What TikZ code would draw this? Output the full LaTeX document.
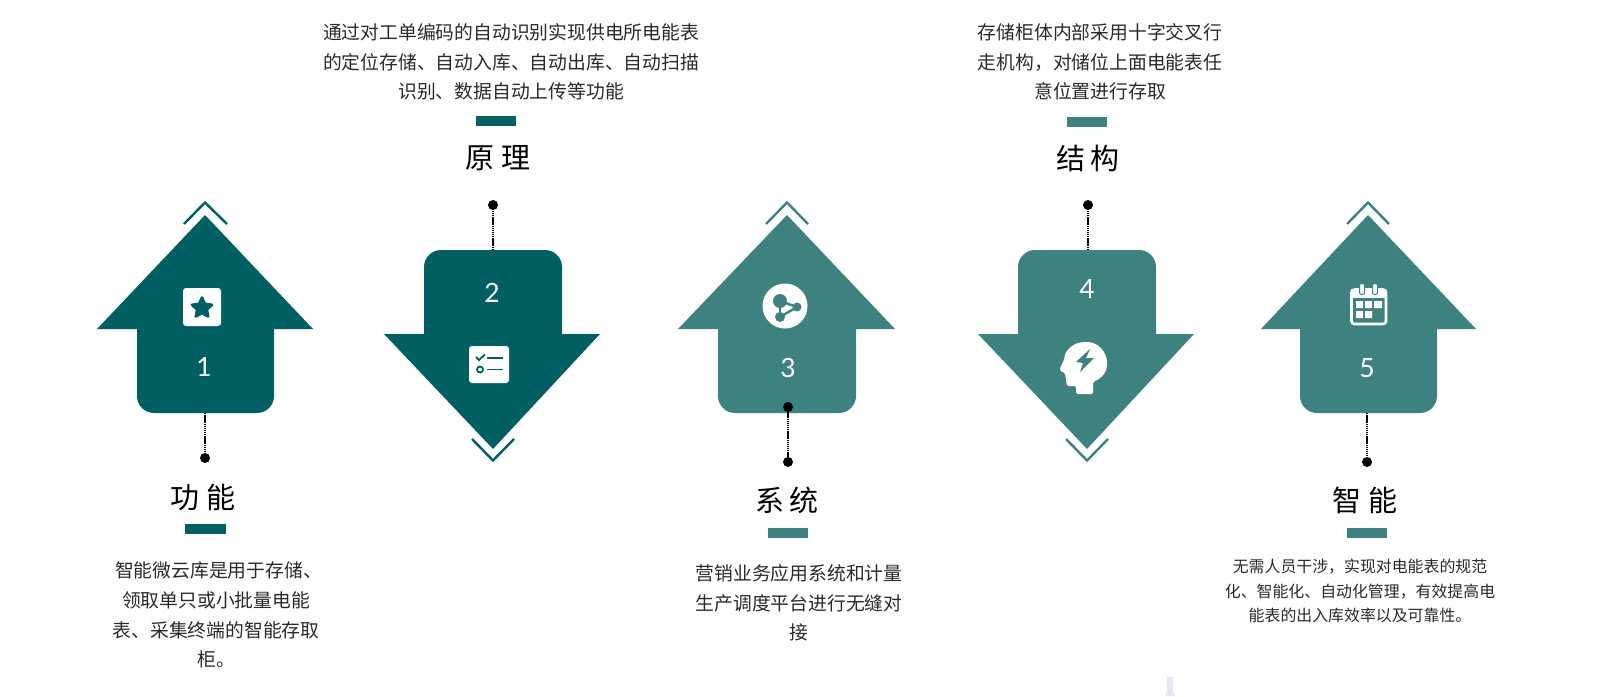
\documentclass[tikz,border=0pt]{standalone}
\usepackage{fontspec}
\setmainfont{Liberation Sans}
\newfontfamily\cjk{Noto Sans CJK SC}
\newfontfamily\numfont{Lato}
\definecolor{tealA}{HTML}{005F63}
\definecolor{tealB}{HTML}{3E8280}
\definecolor{inkA}{HTML}{2A2A2A}
\definecolor{faintA}{HTML}{E4E7F6}
\tikzset{
  body/.style={font=\cjk\fontsize{18.8}{29.7}\selectfont,text=inkA,align=center,inner sep=0pt},
  bodysmall/.style={font=\cjk\fontsize{15.9}{24.8}\selectfont,text=inkA,align=center,inner sep=0pt},
  headline/.style={font=\cjk\fontsize{29}{32}\selectfont,text=black,inner sep=0pt},
  numeral/.style={font=\numfont\fontsize{26.5}{30}\selectfont,text=white,inner sep=0pt},
  blackdot/.style={circle,fill=black,minimum size=10pt,inner sep=0pt},
  conn/.style={black,line width=1.7pt,dash pattern=on 1.4pt off 0.7pt},
  chev/.style={line width=2.4pt,miter limit=10},
  iconbox/.style={fill=white,rounded corners=3pt}
}
\begin{document}
\begin{tikzpicture}[x=1pt,y=-1pt]
\useasboundingbox (0,0) rectangle (1600,696);
\fill[white] (0,0) rectangle (1600,696);
\fill[faintA] (1167,677) -- (1173,677) -- (1173,692) -- (1175,696) -- (1165,696) -- (1167,692) -- cycle;

% arrow 1
\fill[tealA] (205,215) -- (313,329) -- (274,329) [rounded corners=17pt] -- (274,413) -- (137,413) [sharp corners] -- (137,329) -- (97,329) -- cycle;
\draw[chev,tealA] (184,224) -- (205,202.5) -- (227,224);
\coordinate (b1) at (205,413);
\node[blackdot] (d1) at (205,458) {};
\draw[conn] (b1) -- (d1);
\node[numeral] (n1) at (204,367) {1};
\fill[iconbox] (183,288) rectangle (221,326);
\fill[tealA,draw=tealA,line width=2.6pt,line join=round] (202,297.5) -- (205,303.9) -- (212,304.8) -- (206.9,309.6) -- (208.2,316.5) -- (202,313.1) -- (195.8,316.5) -- (197.1,309.6) -- (192,304.8) -- (199,303.9) -- cycle;
\node[headline] (t1) at (203,497) {功\hspace{8pt}能};
\fill[tealA] (185,524) rectangle (226,534);
\node[body] (x1) at (216,615) {\hspace*{5pt}智能微云库是用于存储、\\领取单只或小批量电能\hspace*{-2pt}\\表、采集终端的智能存取\\柜。};

% arrow 2
\fill[tealA] (493,449) -- (600,334) -- (562,334) [rounded corners=17pt] -- (562,250) -- (424,250) [sharp corners] -- (424,334) -- (384,334) -- cycle;
\draw[chev,tealA] (472,439) -- (493,460.5) -- (514,439);
\coordinate (b2) at (493,250);
\node[blackdot] (d2) at (493,205) {};
\draw[conn] (b2) -- (d2);
\node[numeral] (n2) at (492,293) {2};
\fill[iconbox] (469,346) rectangle (509,383);
\draw[tealA,line width=1.8pt] (476,357) -- (479,360) -- (485,354.5);
\draw[tealA,line width=1.8pt] (487,358) -- (503,358);
\draw[tealA,line width=1.8pt] (480,369.5) circle (3pt);
\draw[tealA,line width=1.8pt] (487,369.5) -- (503,369.5);
\node[headline] (t2) at (498,158.5) {原\hspace{8pt}理};
\fill[tealA] (476,116) rectangle (516,126);
\node[body] (x2) at (511,62) {通过对工单编码的自动识别实现供电所电能表\\的定位存储、自动入库、自动出库、自动扫描\\识别、数据自动上传等功能};

% arrow 3
\fill[tealB] (787,215) -- (895,329) -- (856,329) [rounded corners=17pt] -- (856,413) -- (718,413) [sharp corners] -- (718,329) -- (678,329) -- cycle;
\draw[chev,tealB] (766,224) -- (787,202.5) -- (808,224);
\node[blackdot] (d3a) at (788,407) {};
\node[blackdot] (d3) at (788,462) {};
\draw[conn] (d3a) -- (d3);
\node[numeral] (n3) at (788,368) {3};
\fill[white] (785,306) circle (22.5pt);
\draw[tealB,line width=2.4pt] (780,301) -- (797,307) -- (780,317) -- cycle;
\fill[tealB] (780,301) circle (7pt) (797,307) circle (4.5pt) (780,317) circle (5pt);
\node[headline] (t3) at (787,500.5) {系\hspace{6pt}统};
\fill[tealB] (768,528) rectangle (807.5,538);
\node[body] (x3) at (799,603) {营销业务应用系统和计量\\生产调度平台进行无缝对\\接};

% arrow 4
\fill[tealB] (1087,449) -- (1194,334) -- (1156,334) [rounded corners=17pt] -- (1156,250) -- (1018,250) [sharp corners] -- (1018,334) -- (978,334) -- cycle;
\draw[chev,tealB] (1066,439) -- (1087,460.5) -- (1108,439);
\coordinate (b4) at (1088,250);
\node[blackdot] (d4) at (1088,205) {};
\draw[conn] (b4) -- (d4);
\node[numeral] (n4) at (1087,289) {4};
\fill[white,rounded corners=1.5pt] (1076,394) -- (1076,386) -- (1067,386) -- (1065,373) -- (1060,371) -- (1060,368) -- (1064,360)
  .. controls (1065,349) and (1075,342) .. (1086,342)
  .. controls (1098,342) and (1107,352) .. (1107,364)
  .. controls (1107,372) and (1102,378) .. (1093,382) -- (1093,394) -- cycle;
\fill[tealB] (1090,349) -- (1076,362) -- (1083,363) -- (1080,372) -- (1094,358) -- (1086,358) -- cycle;
\node[headline] (t4) at (1088,158.5) {结\hspace{6pt}构};
\fill[tealB] (1067,117) rectangle (1107,127);
\node[body] (x4) at (1100,62) {存储柜体内部采用十字交叉行\\走机构，对储位上面电能表任\\意位置进行存取};

% arrow 5
\fill[tealB] (1368,215) -- (1476,329) -- (1437,329) [rounded corners=17pt] -- (1437,413) -- (1300,413) [sharp corners] -- (1300,329) -- (1261,329) -- cycle;
\draw[chev,tealB] (1347,224) -- (1368,202.5) -- (1389,224);
\coordinate (b5) at (1367,413);
\node[blackdot] (d5) at (1367,462) {};
\draw[conn] (b5) -- (d5);
\node[numeral] (n5) at (1367,368) {5};
\draw[white,line width=2.6pt,rounded corners=3pt] (1351.5,289.5) rectangle (1386,324);
\fill[white] (1351,289) rectangle (1386,298);
\fill[white,draw=tealB,line width=1pt,rounded corners=2pt] (1359.5,283.5) rectangle (1364.5,294.5);
\fill[white,draw=tealB,line width=1pt,rounded corners=2pt] (1372.5,283.5) rectangle (1377.5,294.5);
\fill[white] (1356,301) rectangle (1363,308) (1365,301) rectangle (1372,308) (1374,301) rectangle (1382,308)
             (1356,311) rectangle (1363,318) (1365,311) rectangle (1372,318);
\node[headline] (t5) at (1365,500.5) {智\hspace{8pt}能};
\fill[tealB] (1347,528) rectangle (1387,538);
\node[bodysmall] (x5) at (1360,591) {无需人员干涉，实现对电能表的规范\\化、智能化、自动化管理，有效提高电\\能表的出入库效率以及可靠性。};
\end{tikzpicture}
\end{document}
